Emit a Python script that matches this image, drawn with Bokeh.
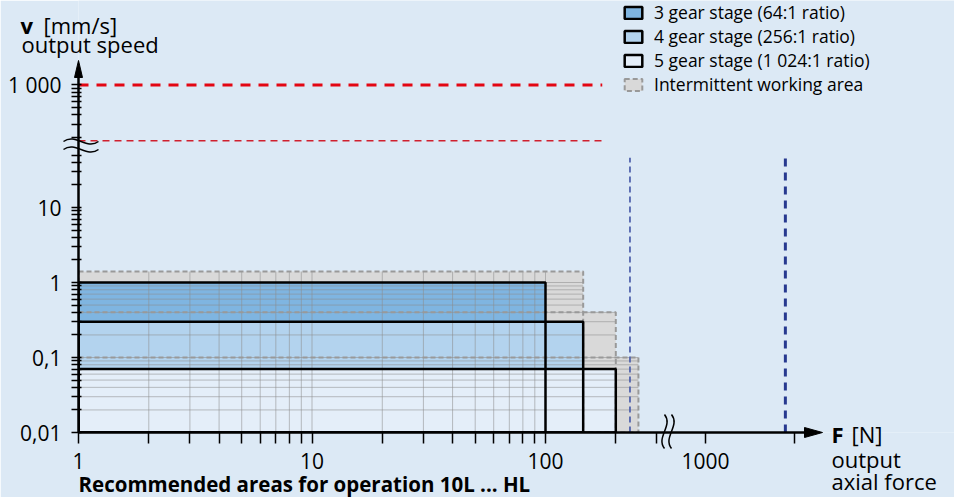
import math
from bokeh.plotting import figure
from bokeh.models import Range1d, FixedTicker, Legend, LegendItem
from bokeh.core.properties import value
from bokeh.embed import file_html
from bokeh.resources import INLINE

# ---------------- data ----------------
stage_labels = ["3 gear stage (64:1 ratio)", "4 gear stage (256:1 ratio)", "5 gear stage (1 024:1 ratio)"]
stage_force_max = [100, 145, 200]        # F [N]
stage_speed_max = [1.0, 0.3, 0.07]       # v [mm/s]
interm_label = "Intermittent working area"
interm_force_max = [145, 200, 250]
interm_speed_max = [1.4, 0.4, 0.1]
force_min = 1
speed_min = 0.01
speed_limits = [1000, 180]               # red dashed lines (thick, thin)
speed_limit_force_end = 175
force_limits = [2200, 230]               # blue dashed lines (thick, thin)
force_limit_speed_end = 46

x_major = [1, 10, 100, 1000]
x_major_labels = ["1", "10", "100", "1000"]
x_minor = [2, 3, 4, 5, 6, 7, 8, 9, 20, 30, 40, 50, 60, 70, 80, 90, 200, 300, 2400]
y_major = [0.01, 0.1, 1, 10, 1000]
y_major_labels = ["0,01", "0,1", "1", "10", "1 000"]
y_minor = [0.02, 0.03, 0.04, 0.05, 0.06, 0.07, 0.08, 0.09,
           0.2, 0.3, 0.4, 0.5, 0.6, 0.7, 0.8, 0.9,
           2, 3, 4, 5, 6, 7, 8, 9, 20, 30, 40, 50,
           200, 300, 400, 500, 600, 700, 800, 900]
grid_x = [2, 3, 4, 5, 6, 7, 8, 9, 10, 20, 30, 40, 50, 60, 70, 80, 90, 100]
grid_y = [0.02, 0.03, 0.04, 0.05, 0.06, 0.07, 0.08, 0.09, 0.1,
          0.2, 0.3, 0.4, 0.5, 0.6, 0.7, 0.8, 0.9, 1]

# ---------------- axis breaks (values beyond the break are compressed) ----------------
X_BREAK, X_SHRINK = 500, 0.484
Y_BREAK, Y_SHRINK = 100, 0.43


def fx(v):
    return v if v < X_BREAK else v * X_SHRINK


def fy(v):
    return v if v < Y_BREAK else v * Y_SHRINK


# ---------------- layout (pixels) ----------------
W, H = 954, 497
FR_L, FR_R, FR_T, FR_B = 78, 954, 0, 432     # plot frame edges
X_DEC, Y_DEC = 233.5, 75.0                   # pixels per decade
TEXT_DY = 8                                  # baseline correction for text glyphs


def X(px):
    return 10 ** ((px - FR_L) / X_DEC)


def Y(py):
    return 0.01 * 10 ** ((FR_B - py) / Y_DEC)


BG = "#dce9f5"
FONT = "Open Sans"

p = figure(width=W, height=H, x_axis_type="log", y_axis_type="log",
           x_range=Range1d(1, X(FR_R)), y_range=Range1d(0.01, Y(FR_T)),
           output_backend="svg", toolbar_location=None,
           min_border_left=FR_L, min_border_right=W - FR_R,
           min_border_top=FR_T, min_border_bottom=H - FR_B)
p.background_fill_color = BG
p.border_fill_color = BG
p.outline_line_color = None
p.xgrid.visible = False
p.ygrid.visible = False

# ---------------- axes (ticks + labels; lines drawn below) ----------------
xa = p.xaxis[0]
xa.ticker = FixedTicker(ticks=[fx(v) for v in x_major], minor_ticks=[fx(v) for v in x_minor])
xa.major_label_overrides = {fx(v): s for v, s in zip(x_major, x_major_labels)}
xa.axis_line_color = None
xa.major_tick_out = 11
xa.major_tick_in = 0
xa.minor_tick_out = 11
xa.minor_tick_in = 0
xa.major_tick_line_width = 1.5
xa.minor_tick_line_width = 1.5
xa.major_tick_line_color = "black"
xa.minor_tick_line_color = "black"
xa.major_label_text_font = FONT
xa.major_label_text_font_size = "21px"
xa.major_label_text_color = "black"
xa.major_label_standoff = 9

ya = p.yaxis[0]
ya.ticker = FixedTicker(ticks=[fy(v) for v in y_major], minor_ticks=[fy(v) for v in y_minor])
ya.major_label_overrides = {fy(v): s for v, s in zip(y_major, y_major_labels)}
ya.axis_line_color = None
ya.major_tick_out = 7
ya.major_tick_in = 3
ya.minor_tick_out = 7
ya.minor_tick_in = 3
ya.major_tick_line_width = 1.5
ya.minor_tick_line_width = 1.5
ya.major_tick_line_color = "black"
ya.minor_tick_line_color = "black"
ya.major_label_text_font = FONT
ya.major_label_text_font_size = "21px"
ya.major_label_text_color = "black"
ya.major_label_standoff = 10

# ---------------- working areas ----------------
n_int = len(interm_force_max)
gray_fill = p.quad(left=[fx(force_min)] * n_int, right=[fx(v) for v in interm_force_max],
                   bottom=[fy(speed_min)] * n_int, top=[fy(v) for v in interm_speed_max],
                   fill_color="#d9d9d9", line_color=None)

stage_fills = ["#7fb5e1", "#b3d3ee", "#e4eef9"]
fill_rs = []
for i in range(len(stage_force_max)):
    fill_rs.append(p.quad(left=[fx(force_min)], right=[fx(stage_force_max[i])],
                          bottom=[fy(speed_min)], top=[fy(stage_speed_max[i])],
                          fill_color=stage_fills[i], line_color=None))

# grid lines clipped to the intermittent working area
gx0, gy0, gx1, gy1 = [], [], [], []
for g in grid_x:
    top = max(s for f, s in zip(interm_force_max, interm_speed_max) if f >= g)
    gx0.append(fx(g)); gx1.append(fx(g)); gy0.append(fy(speed_min)); gy1.append(fy(top))
for g in grid_y:
    right = max(f for f, s in zip(interm_force_max, interm_speed_max) if s >= g)
    gx0.append(fx(force_min)); gx1.append(fx(right)); gy0.append(fy(g)); gy1.append(fy(g))
p.segment(gx0, gy0, gx1, gy1, line_color="#8c8c8c", line_width=1, line_alpha=0.55)

gray_outline = p.quad(left=[fx(force_min)] * n_int, right=[fx(v) for v in interm_force_max],
                      bottom=[fy(speed_min)] * n_int, top=[fy(v) for v in interm_speed_max],
                      fill_color=None, line_color="#999999", line_width=2, line_dash="5 3")

outline_rs = []
for i in range(len(stage_force_max)):
    outline_rs.append(p.quad(left=[fx(force_min)], right=[fx(stage_force_max[i])],
                             bottom=[fy(speed_min)], top=[fy(stage_speed_max[i])],
                             fill_color=None, line_color="black", line_width=2.5))

# ---------------- limit lines ----------------
p.segment([fx(force_min)], [fy(speed_limits[0])], [fx(speed_limit_force_end)], [fy(speed_limits[0])],
          line_color="#e30613", line_width=3, line_dash="10 8")
p.segment([fx(force_min)], [fy(speed_limits[1])], [fx(speed_limit_force_end)], [fy(speed_limits[1])],
          line_color="#d0202e", line_width=1.5, line_dash="7 5")
p.segment([fx(force_limits[0])], [fy(speed_min)], [fx(force_limits[0])], [fy(force_limit_speed_end)],
          line_color="#27398f", line_width=3, line_dash="8 6")
p.segment([fx(force_limits[1])], [fy(speed_min)], [fx(force_limits[1])], [fy(force_limit_speed_end)],
          line_color="#5264ad", line_width=1.8, line_dash="6 4")

# ---------------- axis lines, arrowheads and break marks ----------------
p.segment([fx(force_min), fx(force_min)], [fy(speed_min), fy(speed_min)],
          [fx(force_min), X(806)], [Y(70), fy(speed_min)],
          line_color="black", line_width=2.5, level="overlay")
p.patch([X(74), X(78), X(82)], [Y(77), Y(60), Y(77)], fill_color="black", line_color="black", level="overlay")
p.patch([X(804), X(822), X(804)], [Y(427), Y(432), Y(437)], fill_color="black", line_color="black", level="overlay")

# y-axis break (two wavy lines across the axis)
p.bezier(x0=[X(63), X(63)], y0=[Y(141), Y(149)], x1=[X(98), X(98)], y1=[Y(141), Y(149)],
         cx0=[X(75), X(75)], cy0=[Y(132), Y(140)], cx1=[X(86), X(86)], cy1=[Y(150), Y(158)],
         line_color="black", line_width=1.5, level="overlay")
# x-axis break (two wavy lines across the axis)
p.bezier(x0=[X(664), X(671)], y0=[Y(414), Y(414)], x1=[X(664), X(671)], y1=[Y(448), Y(448)],
         cx0=[X(673), X(680)], cy0=[Y(425), Y(425)], cx1=[X(655), X(662)], cy1=[Y(437), Y(437)],
         line_color="black", line_width=1.5, level="overlay")

# ---------------- legend ----------------
items = [LegendItem(label=stage_labels[i], renderers=[fill_rs[i], outline_rs[i]]) for i in range(len(stage_labels))]
items.append(LegendItem(label=interm_label, renderers=[gray_fill, gray_outline]))
legend = Legend(items=items, location=(622 - FR_L, FR_B - 96),
                glyph_width=22, glyph_height=15, label_standoff=10,
                label_text_font=FONT, label_text_font_size="17.5px", label_text_color="black",
                label_height=20, spacing=-1, padding=0, margin=0,
                border_line_color=None, background_fill_alpha=0)
p.add_layout(legend)

# ---------------- texts ----------------
def txt(x_px, y_px, text, size="22px", bold=False, align="left"):
    p.text(x=[X(x_px)], y=[Y(y_px - TEXT_DY)], text=[text], text_font=value(FONT), text_font_size=size,
           text_font_style="bold" if bold else "normal", text_color="black",
           text_align=align, text_baseline="alphabetic", level="overlay")

txt(20, 32, "v", bold=True)
txt(43, 32, "[mm/s]")
txt(21, 51, "output speed")
txt(831, 441, "F", bold=True)
txt(851, 441, "[N]")
txt(831, 466, "output")
txt(831, 488, "axial force")
txt(78, 491, "Recommended areas for operation 10L ... HL", size="20.5px", bold=True)

open("out.html", "w").write(file_html(p, INLINE))
